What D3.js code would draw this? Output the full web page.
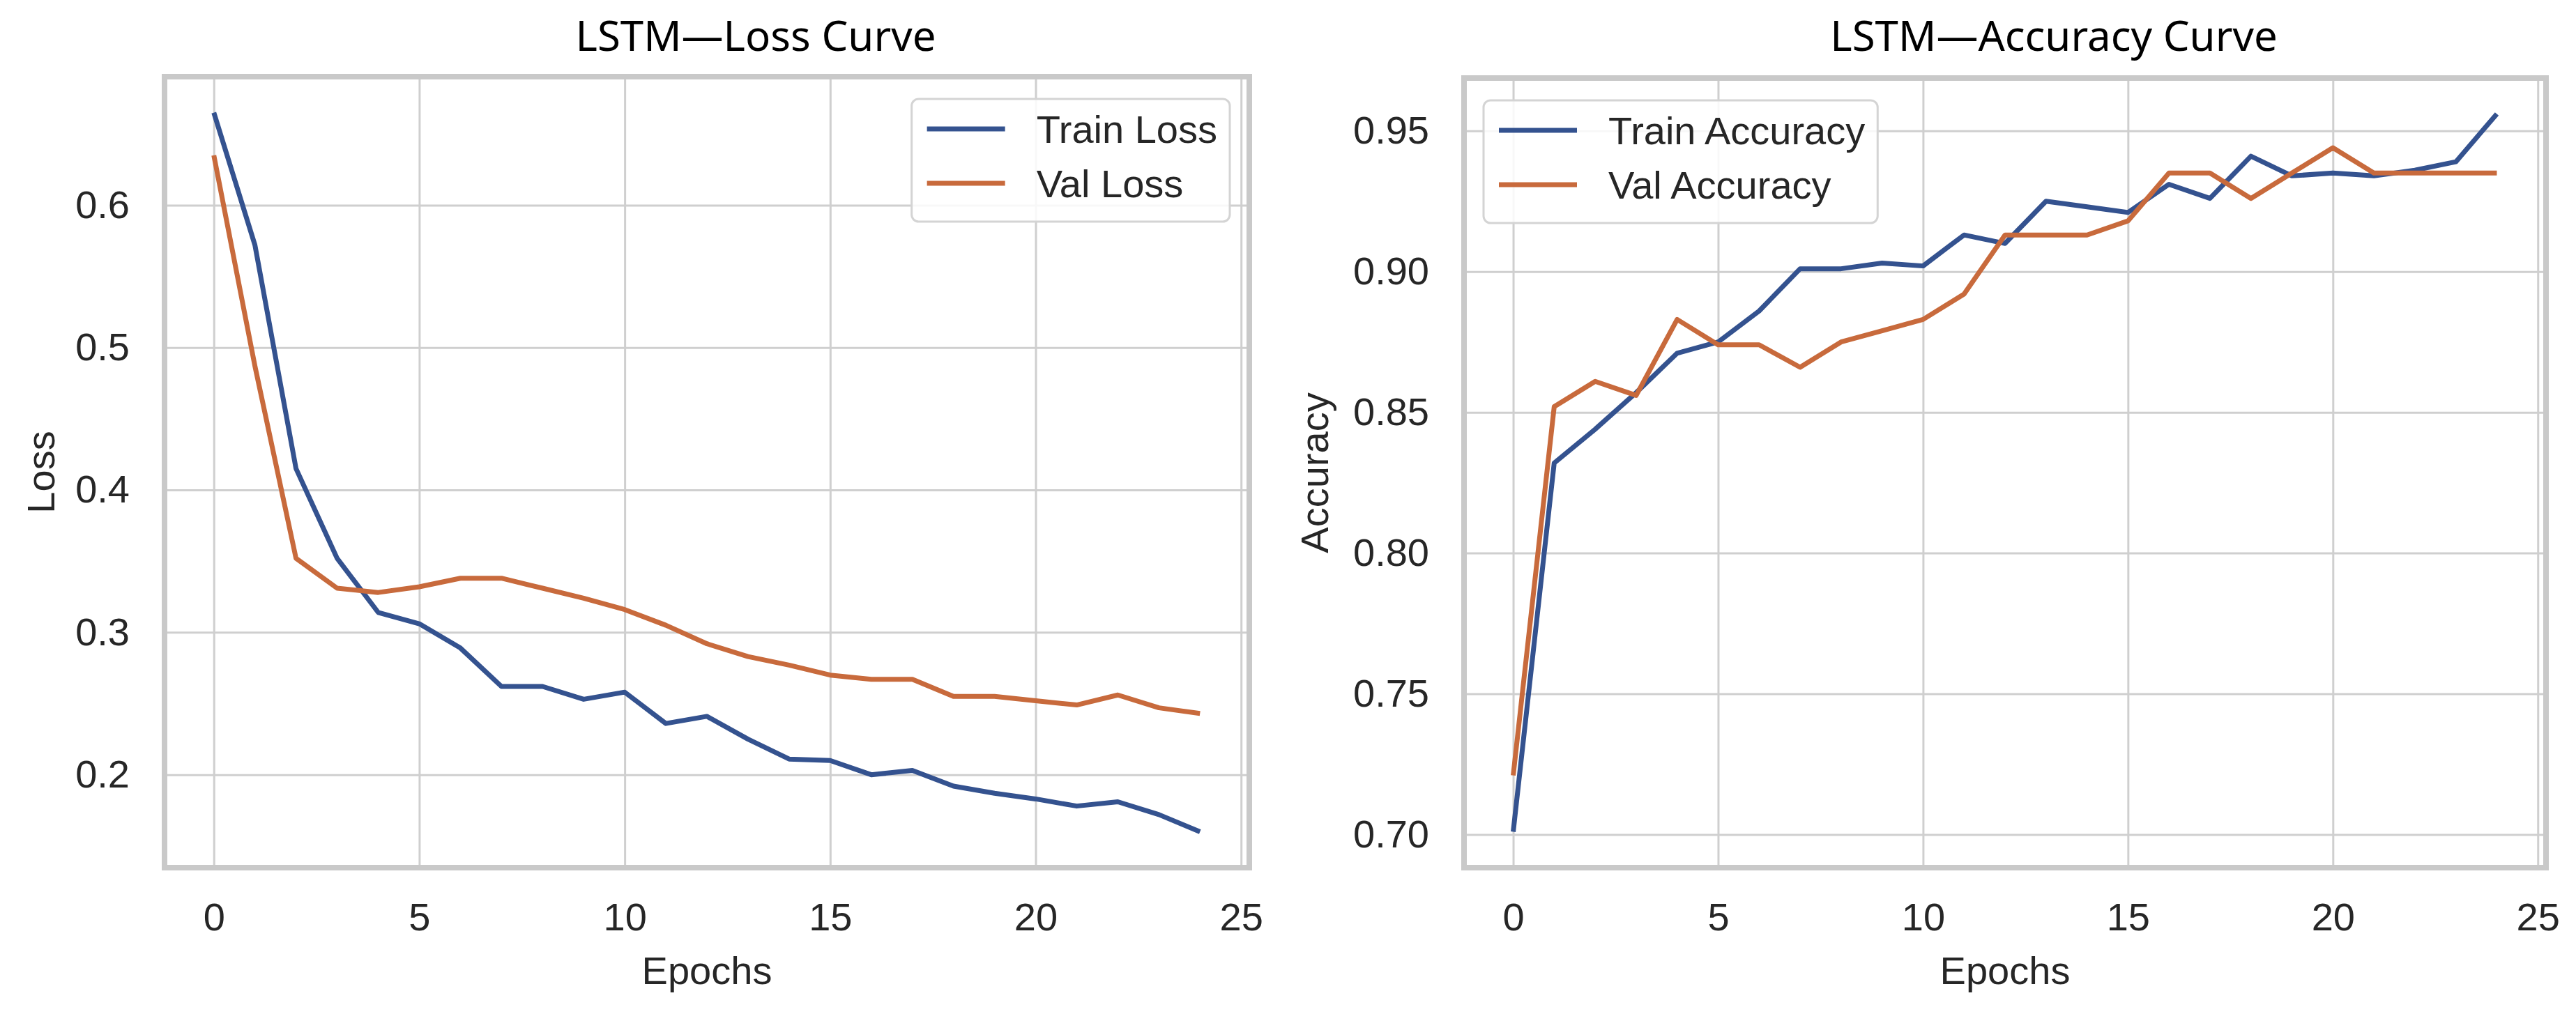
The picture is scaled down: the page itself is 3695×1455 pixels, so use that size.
<!DOCTYPE html>
<html>
<head>
<meta charset="utf-8">
<script src="https://cdn.jsdelivr.net/npm/d3@7"></script>
<style>
body { margin: 0; background: #fff; }
text { font-family: "Liberation Sans", Arial, sans-serif; fill: #262626; }
.title { font-family: "Noto Sans", sans-serif; fill: #000; }
</style>
</head>
<body>
<script>
const epochs = [0, 1, 2, 3, 4, 5, 6, 7, 8, 9, 10, 11, 12, 13, 14, 15, 16, 17, 18, 19, 20, 21, 22, 23, 24];

const trainLoss = [0.665, 0.572, 0.415, 0.352, 0.314, 0.306, 0.289, 0.262, 0.262, 0.253, 0.258, 0.236, 0.241,
  0.225, 0.211, 0.210, 0.200, 0.203, 0.192, 0.187, 0.183, 0.178, 0.181, 0.172, 0.160];
const valLoss = [0.635, 0.487, 0.352, 0.331, 0.328, 0.332, 0.338, 0.338, 0.331, 0.324, 0.316, 0.305, 0.292,
  0.283, 0.277, 0.270, 0.267, 0.267, 0.255, 0.255, 0.252, 0.249, 0.256, 0.247, 0.243];

const trainAcc = [0.701, 0.832, 0.844, 0.857, 0.871, 0.875, 0.886, 0.901, 0.901, 0.903, 0.902, 0.913, 0.910,
  0.925, 0.923, 0.921, 0.931, 0.926, 0.941, 0.934, 0.935, 0.934, 0.936, 0.939, 0.956];
const valAcc = [0.721, 0.852, 0.861, 0.856, 0.883, 0.874, 0.874, 0.866, 0.875, 0.879, 0.883, 0.892, 0.913,
  0.913, 0.913, 0.918, 0.935, 0.935, 0.926, 0.935, 0.944, 0.935, 0.935, 0.935, 0.935];

const xTicks = [0, 5, 10, 15, 20, 25];
const lossTicks = [0.2, 0.3, 0.4, 0.5, 0.6];
const accTicks = [0.70, 0.75, 0.80, 0.85, 0.90, 0.95];

const blue = "#34528f";
const orange = "#c86a3c";
const fs = 56;

const svg = d3.select("body").append("svg")
    .attr("width", 3695)
    .attr("height", 1455);

// matplotlib style 5% margins
function padded(vals) {
    const [lo, hi] = d3.extent(vals);
    const m = (hi - lo) * 0.05;
    return [lo - m, hi + m];
}

function drawPanel(p) {
    const x = d3.scaleLinear().domain(padded(epochs)).range([p.left, p.right]);
    const y = d3.scaleLinear().domain(padded(p.series[0].values.concat(p.series[1].values))).range([p.bottom, p.top]);
    const g = svg.append("g");

    const gx = g.append("g")
        .attr("transform", `translate(0,${p.bottom})`)
        .call(d3.axisBottom(x).tickValues(xTicks).tickSize(-(p.bottom - p.top)).tickPadding(50).tickFormat(d3.format("d")));
    const gy = g.append("g")
        .attr("transform", `translate(${p.left},0)`)
        .call(d3.axisLeft(y).tickValues(p.yTicks).tickSize(-(p.right - p.left)).tickPadding(50).tickFormat(d3.format(p.yFormat)));
    [gx, gy].forEach(a => {
        a.select(".domain").remove();
        a.selectAll("line").attr("stroke", "#cfcfcf").attr("stroke-width", 3);
        a.selectAll("text").style("font-size", fs + "px").attr("fill", "#262626");
    });

    g.append("rect")
        .attr("x", p.left).attr("y", p.top)
        .attr("width", p.right - p.left).attr("height", p.bottom - p.top)
        .attr("fill", "none").attr("stroke", "#c9c9c9").attr("stroke-width", 8);

    const line = d3.line().x((d, i) => x(epochs[i])).y(d => y(d));
    p.series.forEach(s => {
        g.append("path")
            .datum(s.values)
            .attr("d", line)
            .attr("fill", "none")
            .attr("stroke", s.color)
            .attr("stroke-width", 7)
            .attr("stroke-linejoin", "round");
    });

    g.append("text")
        .attr("class", "title")
        .attr("x", (p.left + p.right) / 2 + p.titleShift)
        .attr("y", 73)
        .attr("text-anchor", "middle")
        .style("font-size", "60px")
        .text(p.title);

    g.append("text")
        .attr("x", (p.left + p.right) / 2)
        .attr("y", 1412)
        .attr("text-anchor", "middle")
        .style("font-size", fs + "px")
        .text("Epochs");

    g.append("text")
        .attr("transform", `translate(${p.ylabelX},${(p.top + p.bottom) / 2}) rotate(-90)`)
        .attr("text-anchor", "middle")
        .style("font-size", fs + "px")
        .text(p.ylabel);

    // legend
    const lg = g.append("g");
    const box = lg.append("rect")
        .attr("fill", "#fff").attr("fill-opacity", 0.85)
        .attr("stroke", "#d4d4d4").attr("stroke-width", 3).attr("rx", 10);
    const labels = p.series.map((s, i) => lg.append("text")
        .attr("y", 43 + i * 78)
        .attr("dy", "0.35em")
        .style("font-size", fs + "px")
        .text(s.name));
    const tw = d3.max(labels, t => t.node().getComputedTextLength());
    const bw = 22 + 112 + 45 + tw + 18;
    const bx = p.legendRight ? p.right - 28 - bw : p.left + 28;
    const by = p.top + 32;
    lg.attr("transform", `translate(${bx},${by})`);
    box.attr("width", bw).attr("height", 176);
    labels.forEach(t => t.attr("x", 22 + 112 + 45));
    p.series.forEach((s, i) => {
        lg.append("line")
            .attr("x1", 22).attr("x2", 22 + 112)
            .attr("y1", 43 + i * 78).attr("y2", 43 + i * 78)
            .attr("stroke", s.color).attr("stroke-width", 7);
    });
}

drawPanel({
    left: 236, right: 1792, top: 110, bottom: 1245,
    title: "LSTM\u2014Loss Curve", titleShift: 70,
    ylabel: "Loss", ylabelX: 78,
    yTicks: lossTicks, yFormat: ".1f",
    legendRight: true,
    series: [
        { name: "Train Loss", values: trainLoss, color: blue },
        { name: "Val Loss", values: valLoss, color: orange }
    ]
});

drawPanel({
    left: 2100, right: 3652, top: 112, bottom: 1245,
    title: "LSTM\u2014Accuracy Curve", titleShift: 70,
    ylabel: "Accuracy", ylabelX: 1905,
    yTicks: accTicks, yFormat: ".2f",
    legendRight: false,
    series: [
        { name: "Train Accuracy", values: trainAcc, color: blue },
        { name: "Val Accuracy", values: valAcc, color: orange }
    ]
});
</script>
</body>
</html>
